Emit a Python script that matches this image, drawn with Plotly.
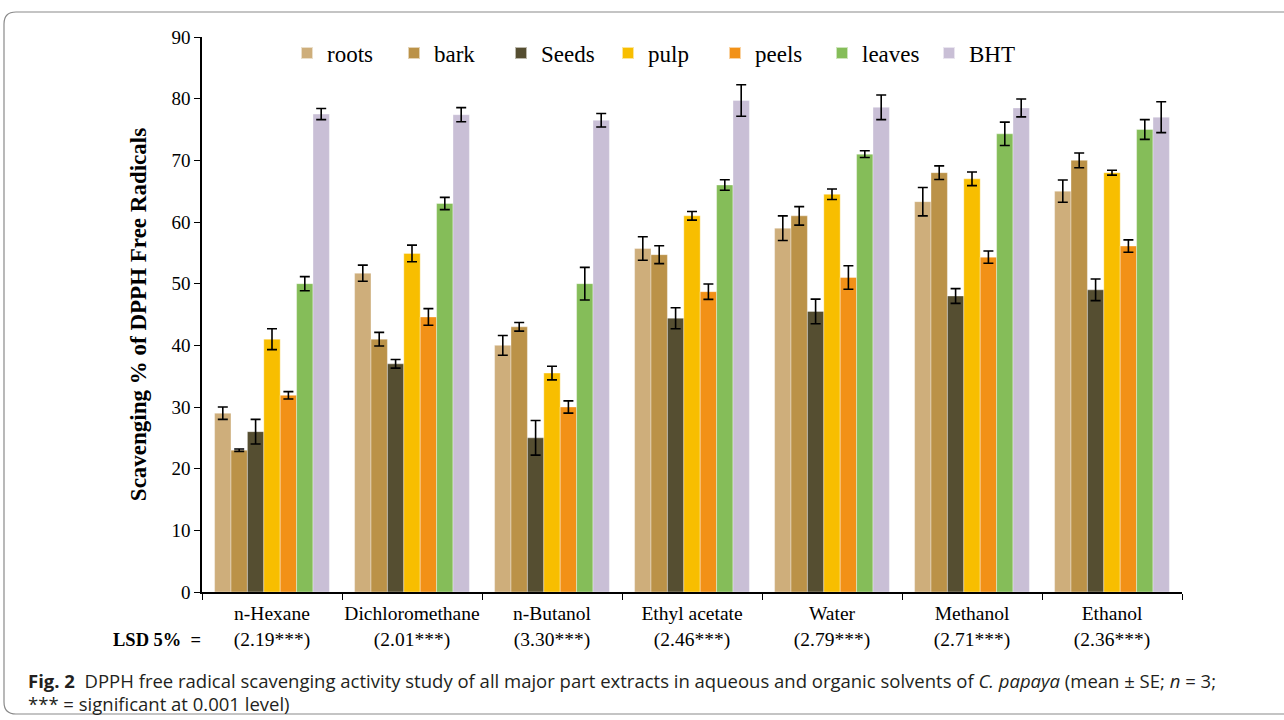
import plotly.graph_objects as go

solvents = ["n-Hexane", "Dichloromethane", "n-Butanol", "Ethyl acetate", "Water", "Methanol", "Ethanol"]
lsd = ["2.19***", "2.01***", "3.30***", "2.46***", "2.79***", "2.71***", "2.36***"]
tick_labels = [f"{s}<br>({l})" for s, l in zip(solvents, lsd)]

parts = ["roots", "bark", "Seeds", "pulp", "peels", "leaves", "BHT"]
colors = ["#CEAE7B", "#BB9248", "#554E31", "#F8BE00", "#F29117", "#85BD59", "#C9BFD6"]

roots = [29.0, 51.7, 40.0, 55.7, 59.0, 63.3, 65.0]
bark = [23.0, 41.0, 43.0, 54.7, 61.0, 68.0, 70.0]
seeds = [26.0, 37.0, 25.0, 44.4, 45.5, 48.0, 49.0]
pulp = [41.0, 54.9, 35.5, 61.0, 64.5, 67.0, 68.0]
peels = [31.9, 44.6, 30.0, 48.7, 51.0, 54.3, 56.1]
leaves = [50.0, 63.0, 50.0, 66.0, 71.0, 74.3, 75.0]
bht = [77.5, 77.4, 76.5, 79.7, 78.6, 78.5, 77.0]

roots_se = [1.0, 1.3, 1.6, 1.9, 2.0, 2.3, 1.8]
bark_se = [0.2, 1.1, 0.7, 1.45, 1.5, 1.1, 1.2]
seeds_se = [2.0, 0.7, 2.8, 1.7, 2.0, 1.2, 1.75]
pulp_se = [1.7, 1.35, 1.1, 0.7, 0.85, 1.1, 0.4]
peels_se = [0.6, 1.35, 1.0, 1.25, 1.9, 1.0, 1.0]
leaves_se = [1.15, 1.0, 2.65, 0.85, 0.55, 1.9, 1.6]
bht_se = [0.9, 1.15, 1.1, 2.55, 2.0, 1.45, 2.5]

values = [roots, bark, seeds, pulp, peels, leaves, bht]
errors = [roots_se, bark_se, seeds_se, pulp_se, peels_se, leaves_se, bht_se]

SERIF = "Liberation Serif, Times New Roman, serif"
SANS = "Open Sans, Noto Sans, sans-serif"

fig = go.Figure()
for name, col, v, e in zip(parts, colors, values, errors):
    fig.add_trace(go.Bar(
        name=name, x=tick_labels, y=v,
        marker=dict(color=col, line=dict(color="rgba(255,255,255,0.6)", width=0.6)),
        error_y=dict(type="data", array=e, visible=True, color="black", thickness=1.6, width=5),
    ))

# plot area in pixels: x 202..1182, y 37..592
L, R, T, B = 202, 1182, 37, 592
W, H = R - L, B - T
def px(x):
    return (x - L) / W
def py(y):
    return (B - y) / H

# rounded frame
x0, x1, y0, y1, r = 4, 1300, 12, 714, 12
path = (f"M {px(x1)},{py(y0)} L {px(x0+r)},{py(y0)} Q {px(x0)},{py(y0)} {px(x0)},{py(y0+r)} "
        f"L {px(x0)},{py(y1-r)} Q {px(x0)},{py(y1)} {px(x0+r)},{py(y1)} L {px(x1)},{py(y1)}")

fig.update_layout(
    width=1284, height=720,
    margin=dict(l=L, r=1284 - R, t=T, b=720 - B, autoexpand=False),
    paper_bgcolor="white", plot_bgcolor="white",
    barmode="group", bargap=0.18, bargroupgap=0,
    font=dict(family=SERIF, size=19, color="black"),
    showlegend=True,
    legend=dict(orientation="h", x=px(287), y=py(53), xanchor="left", yanchor="middle",
                font=dict(family=SERIF, size=23, color="black"),
                bgcolor="rgba(0,0,0,0)", entrywidth=62, entrywidthmode="pixels",
                itemsizing="constant"),
    xaxis=dict(type="category", showline=True, linecolor="black", linewidth=1.5,
               ticks="outside", ticklen=6, tickcolor="black", tickson="boundaries",
               tickangle=0, automargin=False, ticklabelstandoff=3,
               tickfont=dict(family=SERIF, size=19.5), showgrid=False),
    yaxis=dict(range=[0, 90], dtick=10, showline=True, linecolor="black", linewidth=1.5,
               ticks="outside", ticklen=6, tickcolor="black", showgrid=False, zeroline=False,
               automargin=False,
               tickfont=dict(family=SERIF, size=19),
               title=dict(text="<b>Scavenging % of DPPH Free Radicals</b>",
                          font=dict(family=SERIF, size=23), standoff=18)),
    shapes=[dict(type="path", path=path, xref="paper", yref="paper",
                 line=dict(color="#8a8a8a", width=1.2))],
    annotations=[
        dict(text="<b>LSD 5%&nbsp;&nbsp;=</b>", x=px(203), y=py(640), xref="paper", yref="paper",
             xanchor="right", yanchor="middle", showarrow=False,
             font=dict(family=SERIF, size=18.5, color="black")),
        dict(text="<b>Fig. 2</b>  DPPH free radical scavenging activity study of all major part extracts in aqueous and organic solvents of <i>C. papaya</i> (mean ± SE; <i>n</i> = 3;",
             x=px(26), y=py(680), xref="paper", yref="paper", xanchor="left", yanchor="middle",
             showarrow=False, font=dict(family=SANS, size=18.5, color="#231F20")),
        dict(text="*** = significant at 0.001 level)",
             x=px(26), y=py(703), xref="paper", yref="paper", xanchor="left", yanchor="middle",
             showarrow=False, font=dict(family=SANS, size=18.5, color="#231F20")),
    ],
)

fig.write_html("out.html")
